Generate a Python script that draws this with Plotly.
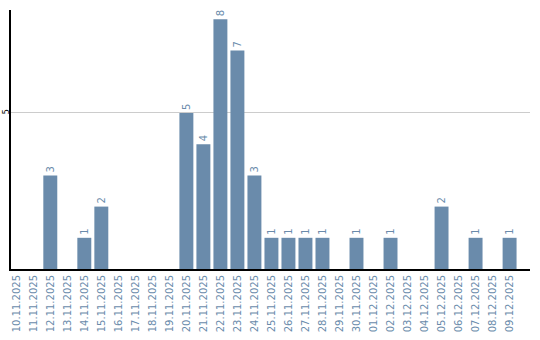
import plotly.graph_objects as go

dates = ["10.11.2025","11.11.2025","12.11.2025","13.11.2025","14.11.2025","15.11.2025",
         "16.11.2025","17.11.2025","18.11.2025","19.11.2025","20.11.2025","21.11.2025",
         "22.11.2025","23.11.2025","24.11.2025","25.11.2025","26.11.2025","27.11.2025",
         "28.11.2025","29.11.2025","30.11.2025","01.12.2025","02.12.2025","03.12.2025",
         "04.12.2025","05.12.2025","06.12.2025","07.12.2025","08.12.2025","09.12.2025"]
counts = [0,0,3,0,1,2,0,0,0,0,5,4,8,7,3,1,1,1,1,0,1,0,1,0,0,2,0,1,0,1]

color = "#6a8bab"
labels = [str(v) if v > 0 else "" for v in counts]

fig = go.Figure(go.Bar(
    x=dates, y=counts, marker_color=color, marker_line_width=0,
    text=labels, textposition="outside", textangle=-90,
    textfont=dict(color=color, size=10, family="DejaVu Sans"),
    cliponaxis=False,
))
fig.update_layout(
    width=540, height=340,
    margin=dict(l=11, r=10, t=10, b=71),
    paper_bgcolor="white", plot_bgcolor="white",
    bargap=0.18, showlegend=False,
    font=dict(family="DejaVu Sans"),
)
fig.update_xaxes(
    type="category", range=[-0.31, 30.2], automargin=False,
    tickangle=-90, tickfont=dict(color=color, size=10, family="DejaVu Sans"),
    showline=True, linecolor="black", linewidth=2, showgrid=False,
    ticks="", ticklen=0,
)
fig.update_yaxes(
    range=[0, 8.3], tickvals=[5], ticktext=["5"], tickangle=-90, automargin=False,
    tickfont=dict(color="black", size=8, family="DejaVu Sans"),
    ticklabelstandoff=-3,
    showline=True, linecolor="black", linewidth=2,
    showgrid=True, gridcolor="#cccccc", gridwidth=1, zeroline=False,
    ticks="", ticklen=0,
)
fig.write_html("out.html")
